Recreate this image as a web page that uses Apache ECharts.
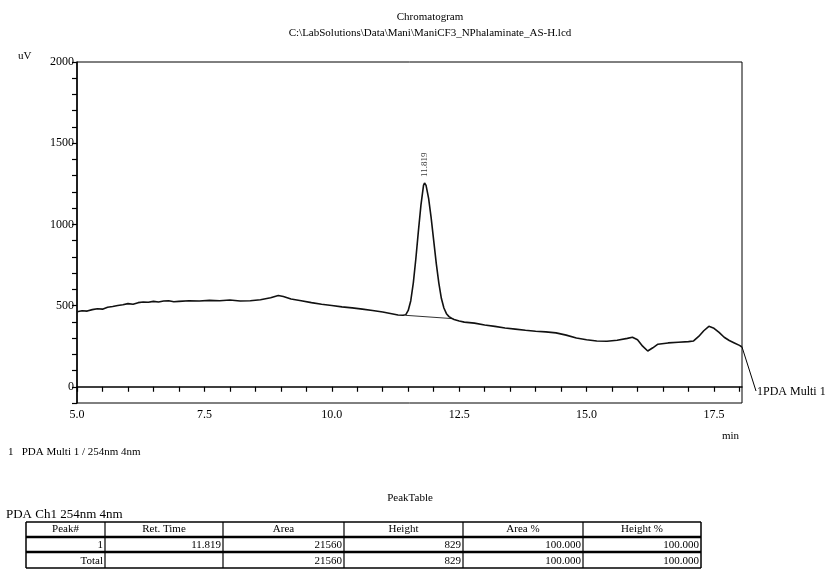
<!DOCTYPE html>
<html>
<head>
<meta charset="utf-8">
<script src="https://cdn.jsdelivr.net/npm/echarts@6/dist/echarts.min.js"></script>
<style>
  html, body { margin: 0; padding: 0; background: #fff; }
  #main { width: 838px; height: 580px; }
</style>
</head>
<body>
<div id="main"></div>
<script>
// chromatogram trace (min / uV)
var times = [
  5.00, 5.10, 5.20, 5.30, 5.40, 5.50, 5.60, 5.70, 5.80, 5.90,
  6.00, 6.10, 6.20, 6.30, 6.40, 6.50, 6.60, 6.70, 6.80, 6.90,
  7.00, 7.20, 7.40, 7.60, 7.80, 8.00, 8.20, 8.40, 8.60, 8.80,
  8.95, 9.05, 9.20, 9.40, 9.60, 9.80, 10.00, 10.20, 10.40, 10.60,
  10.80, 11.00, 11.20, 11.30, 11.40, 11.45, 11.50, 11.55, 11.60, 11.65,
  11.70, 11.75, 11.80, 11.82, 11.85, 11.90, 11.95, 12.00, 12.05, 12.10,
  12.15, 12.20, 12.25, 12.30, 12.35, 12.40, 12.50, 12.60, 12.80, 13.00,
  13.20, 13.40, 13.60, 13.80, 14.00, 14.20, 14.40, 14.60, 14.80, 15.00,
  15.20, 15.40, 15.60, 15.80, 15.90, 16.00, 16.10, 16.20, 16.30, 16.40,
  16.60, 16.80, 17.00, 17.10, 17.20, 17.30, 17.40, 17.50, 17.60, 17.70,
  17.80, 17.90, 18.00, 18.05
];
var signal = [
  462, 468, 466, 475, 480, 478, 490, 494, 500, 505,
  512, 508, 518, 522, 520, 526, 522, 528, 530, 524,
  526, 530, 528, 532, 530, 534, 528, 530, 536, 548,
  562, 556, 540, 530, 518, 508, 500, 492, 486, 478,
  470, 460, 448, 442, 440, 443, 470, 530, 640, 790,
  960, 1120, 1240, 1255, 1240, 1160, 1040, 900, 760, 640,
  545, 485, 450, 432, 422, 414, 405, 398, 392, 380,
  372, 362, 355, 348, 342, 338, 332, 318, 300, 290,
  282, 280, 286, 298, 305, 290, 250, 220, 240, 262,
  270, 274, 278, 282, 310, 345, 372, 360, 335, 305,
  285, 270, 255, 245
];
// drawn baseline under the peak
var baseTimes = [11.45, 12.35];
var baseValues = [440, 420];
// peak apex
var peakTimes = [11.819];
var peakValues = [1255];

var yTicks = [0, 500, 1000, 1500, 2000];
var xTicks = [5.0, 7.5, 10.0, 12.5, 15.0, 17.5];

// peak table
var tableHead = ['Peak#', 'Ret. Time', 'Area', 'Height', 'Area %', 'Height %'];
var rowPeak = ['1', '11.819', '21560', '829', '100.000', '100.000'];
var rowTotal = ['Total', '', '21560', '829', '100.000', '100.000'];

var FONT = '"Liberation Serif", "DejaVu Serif", serif';

var chart = echarts.init(document.getElementById('main'));

function isTick(list, v) {
  for (var i = 0; i < list.length; i++) {
    if (Math.abs(list[i] - v) < 1e-6) return true;
  }
  return false;
}

var option = {
  animation: false,
  backgroundColor: '#fff',
  grid: {
    left: 77, top: 62, right: 96, bottom: 177,
    show: true, borderColor: '#000', borderWidth: 1
  },
  xAxis: {
    type: 'value',
    min: 5, max: 18.05, interval: 0.5,
    axisLine: { show: true, lineStyle: { color: '#000', width: 1.5 } },
    axisTick: { show: true, length: 5, lineStyle: { color: '#000', width: 1.2 } },
    splitLine: { show: false },
    axisLabel: {
      color: '#000', fontFamily: FONT, fontSize: 12, margin: 6,
      showMaxLabel: false,
      formatter: function (v) { return isTick(xTicks, v) ? v.toFixed(1) : ''; }
    }
  },
  yAxis: {
    type: 'value',
    min: -100, max: 2000, interval: 100,
    axisLine: { show: true, lineStyle: { color: '#000', width: 1.5 } },
    axisTick: { show: true, length: 5, lineStyle: { color: '#000', width: 1.2 } },
    splitLine: { show: false },
    axisLabel: {
      color: '#000', fontFamily: FONT, fontSize: 12, margin: 3,
      formatter: function (v) { return isTick(yTicks, v) ? String(v) : ''; }
    }
  },
  series: [
    {
      type: 'line',
      data: times.map(function (t, i) { return [t, signal[i]]; }),
      showSymbol: false,
      lineStyle: { color: '#111', width: 1.6 },
      z: 3
    },
    {
      type: 'line',
      data: baseTimes.map(function (t, i) { return [t, baseValues[i]]; }),
      showSymbol: false,
      lineStyle: { color: '#333', width: 1 },
      z: 2
    },
    {
      type: 'scatter',
      data: peakTimes.map(function (t, i) { return [t, peakValues[i]]; }),
      symbolSize: 0,
      label: {
        show: true, position: 'top', distance: 6, rotate: 90,
        align: 'left', verticalAlign: 'middle',
        color: '#000', fontFamily: FONT, fontSize: 9,
        formatter: function (p) { return p.value[0].toFixed(3); }
      }
    }
  ]
};
chart.setOption(option);

// texts and the peak table
var g = [];
function txt(x, y, s, size, align) {
  g.push({
    type: 'text', x: x, y: y,
    style: {
      text: s, fill: '#000', font: size + 'px ' + FONT,
      textAlign: align || 'left', textVerticalAlign: 'middle'
    }
  });
}
function line(x1, y1, x2, y2, w) {
  g.push({
    type: 'line',
    shape: { x1: x1, y1: y1, x2: x2, y2: y2 },
    style: { stroke: '#000', lineWidth: w || 1 }
  });
}

txt(430, 17, 'Chromatogram', 11, 'center');
txt(430, 33, 'C:\\LabSolutions\\Data\\Mani\\ManiCF3_NPhalaminate_AS-H.lcd', 11, 'center');
txt(18, 56, 'uV', 11);
txt(722, 436, 'min', 11);
txt(8, 452, '1   PDA Multi 1 / 254nm 4nm', 11);

// channel label with leader line from the end of the trace
var endPx = chart.convertToPixel({ gridIndex: 0 }, [times[times.length - 1], signal[signal.length - 1]]);
line(endPx[0], endPx[1], 756, 391, 1);
txt(757, 392, '1PDA Multi 1', 12);

txt(410, 498, 'PeakTable', 11, 'center');
txt(6, 515, 'PDA Ch1 254nm 4nm', 13);

var colEdges = [26, 105, 223, 344, 463, 583, 701];
var rowEdges = [522, 537, 552, 568];
line(colEdges[0], rowEdges[0], colEdges[6], rowEdges[0], 1.5);
line(colEdges[0], rowEdges[1], colEdges[6], rowEdges[1], 2.5);
line(colEdges[0], rowEdges[2], colEdges[6], rowEdges[2], 2.5);
line(colEdges[0], rowEdges[3], colEdges[6], rowEdges[3], 1.5);
colEdges.forEach(function (x, i) {
  line(x, rowEdges[0], x, rowEdges[3], (i === 0 || i === 6) ? 1.5 : 1.2);
});
tableHead.forEach(function (s, i) {
  txt((colEdges[i] + colEdges[i + 1]) / 2, (rowEdges[0] + rowEdges[1]) / 2, s, 11, 'center');
});
[rowPeak, rowTotal].forEach(function (row, r) {
  row.forEach(function (s, i) {
    txt(colEdges[i + 1] - 2, (rowEdges[r + 1] + rowEdges[r + 2]) / 2 + 1, s, 11, 'right');
  });
});

chart.setOption({ graphic: g });
</script>
</body>
</html>
